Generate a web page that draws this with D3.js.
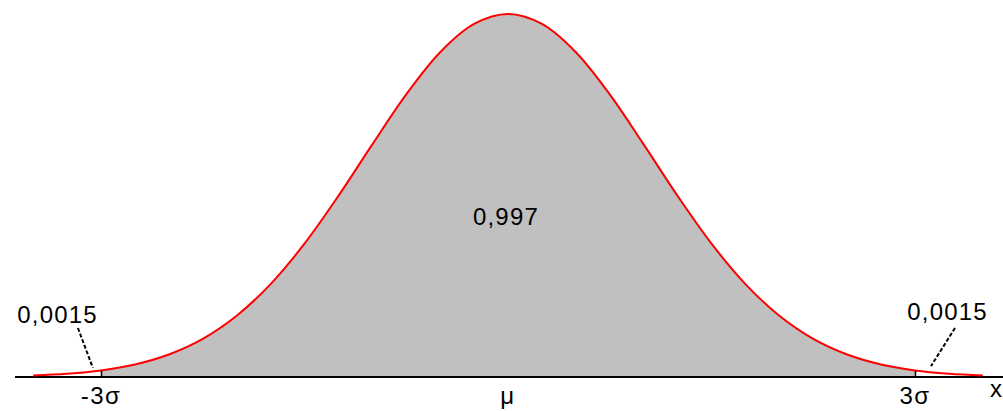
<!DOCTYPE html>
<html>
<head>
<meta charset="utf-8">
<script src="https://cdn.jsdelivr.net/npm/d3@7"></script>
<style>
  html, body { margin: 0; padding: 0; background: #fff; }
  svg { display: block; }
  text { font-family: Arial, "Liberation Sans", sans-serif; fill: #000; }
</style>
</head>
<body>
<svg id="chart" width="1003" height="411"></svg>
<script>
// x positions in units of sigma (ticks at -3, 0, 3)
const zValues = [-3.5, -3.25, -3, -2.75, -2.5, -2.25, -2, -1.75, -1.5, -1.25, -1, -0.75, -0.5, -0.25,
                 0, 0.25, 0.5, 0.75, 1, 1.25, 1.5, 1.75, 2, 2.25, 2.5, 2.75, 3, 3.25, 3.5];
// relative density (peak = 1)
const densityValues = [0.0043, 0.0091, 0.0182, 0.0346, 0.0620, 0.1051, 0.1687, 0.2560, 0.3674, 0.4989, 0.6408, 0.7786, 0.8947, 0.9726,
                       1, 0.9726, 0.8947, 0.7786, 0.6408, 0.4989, 0.3674, 0.2560, 0.1687, 0.1051, 0.0620, 0.0346, 0.0182, 0.0091, 0.0043];
const tickValues = [-3, 0, 3];
const tickLabels = ["-3σ", "μ", "3σ"];
const shadedRange = [-3, 3];
const centerLabel = "0,997";
const tailLabel = "0,0015";
const axisLabel = "x";
// annotations in data units: label anchor (z, v) and leader line (z1,v1)-(z2,v2)
const tailAnnotations = [
  { z: -3.32, v: 0.149, z1: -3.17, v1: 0.135, z2: -3.06, v2: 0.025 },
  { z: 3.24, v: 0.157, z1: 3.295, v1: 0.135, z2: 3.118, v2: 0.030 }
];
const centerAnnotation = { z: -0.015, v: 0.419 };

const data = zValues.map((z, i) => ({ z, v: densityValues[i] }));

const svg = d3.select("#chart");
const x = d3.scaleLinear().domain([-3, 3]).range([101, 915]);
const y = d3.scaleLinear().domain([0, 1]).range([377, 14]);

const shaded = data.filter(d => d.z >= shadedRange[0] && d.z <= shadedRange[1]);

// shaded area
svg.append("path")
  .datum(shaded)
  .attr("fill", "#C0C0C0")
  .attr("d", d3.area().x(d => x(d.z)).y0(y(0)).y1(d => y(d.v)).curve(d3.curveCatmullRom));

// x axis line
const axisDomain = [x.invert(15), x.invert(1003)];
svg.append("line")
  .attr("x1", x(axisDomain[0])).attr("x2", x(axisDomain[1]))
  .attr("y1", y(0)).attr("y2", y(0))
  .attr("stroke", "#000").attr("stroke-width", 2);

// curve
svg.append("path")
  .datum(data)
  .attr("fill", "none")
  .attr("stroke", "#FF0000")
  .attr("stroke-width", 2)
  .attr("d", d3.line().x(d => x(d.z)).y(d => y(d.v)).curve(d3.curveCatmullRom));

// tick marks at +-3 sigma (from axis up to curve)
[-3, 3].forEach(t => {
  const d = data.find(p => p.z === t);
  svg.append("line")
    .attr("x1", Math.round(x(t)) + 0.5).attr("x2", Math.round(x(t)) + 0.5)
    .attr("y1", y(0)).attr("y2", y(d.v))
    .attr("stroke", "#000").attr("stroke-width", 1.5);
});

// tick labels
svg.selectAll("text.tick")
  .data(tickValues)
  .enter().append("text")
  .attr("class", "tick")
  .attr("x", d => x(d))
  .attr("y", 404)
  .attr("text-anchor", "middle")
  .attr("font-size", 24)
  .attr("letter-spacing", 1.5)
  .text((d, i) => tickLabels[i]);

// axis label
svg.append("text")
  .attr("x", 990).attr("y", 397)
  .attr("font-size", 24)
  .text(axisLabel);

// center label
svg.append("text")
  .attr("x", x(centerAnnotation.z)).attr("y", y(centerAnnotation.v))
  .attr("text-anchor", "middle")
  .attr("font-size", 24)
  .attr("letter-spacing", 1.2)
  .text(centerLabel);

// tail labels and leaders
tailAnnotations.forEach(a => {
  svg.append("line")
    .attr("x1", x(a.z1)).attr("y1", y(a.v1))
    .attr("x2", x(a.z2)).attr("y2", y(a.v2))
    .attr("stroke", "#000").attr("stroke-width", 2)
    .attr("stroke-dasharray", "4,2");
  svg.append("text")
    .attr("x", x(a.z)).attr("y", y(a.v))
    .attr("text-anchor", "middle")
    .attr("font-size", 24)
    .attr("letter-spacing", 1.2)
    .text(tailLabel);
});
</script>
</body>
</html>
